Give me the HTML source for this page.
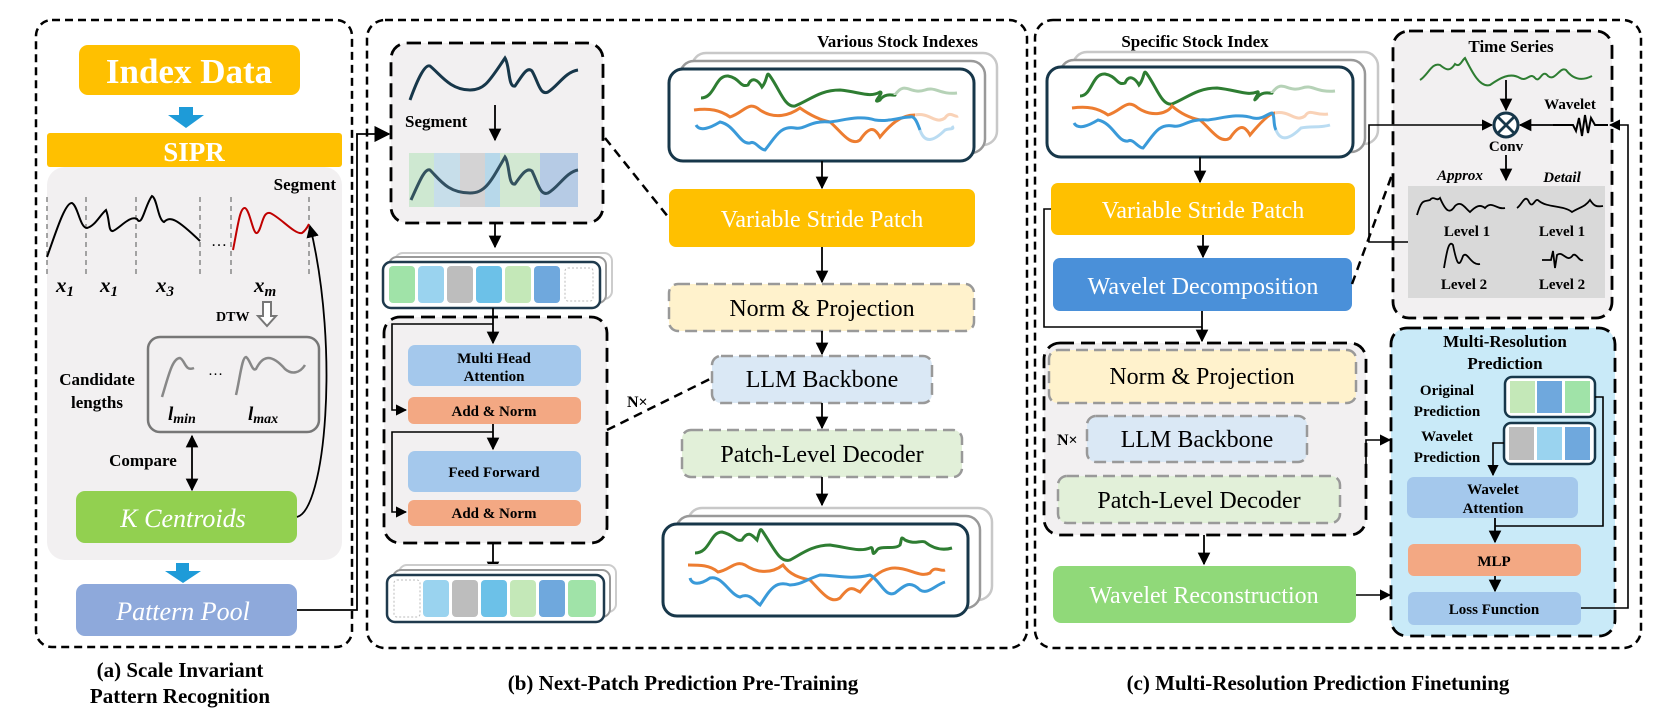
<!DOCTYPE html>
<html><head><meta charset="utf-8"><style>
html,body{margin:0;padding:0;background:#fff;}
svg{display:block;font-family:"Liberation Serif",serif;}
.b{font-weight:bold;}
</style></head><body>
<svg width="1661" height="720" viewBox="0 0 1661 720" xmlns="http://www.w3.org/2000/svg">
<defs>
<marker id="ar" viewBox="0 0 10 10" refX="9" refY="5" markerWidth="7" markerHeight="7" orient="auto-start-reverse"><path d="M0,0 L10,5 L0,10 z" fill="#000"/></marker>
<marker id="ar2" viewBox="0 0 10 10" refX="9" refY="5" markerWidth="9" markerHeight="9" orient="auto-start-reverse"><path d="M0,0 L10,5 L0,10 z" fill="#000"/></marker>
</defs>
<!-- Panel outlines -->
<g fill="none" stroke="#000" stroke-width="2.5" stroke-dasharray="8,5">
<rect x="36" y="20" width="316" height="627" rx="16"/>
<rect x="367" y="20" width="660" height="628" rx="18"/>
<rect x="1035" y="20" width="606" height="628" rx="18"/>
</g>
<!-- ===== Panel A ===== -->
<rect x="79" y="45" width="221" height="50" rx="9" fill="#FFC000"/>
<text x="189" y="83" text-anchor="middle" class="b" font-size="35" fill="#fff">Index Data</text>
<path d="M179,107 h14 v8 h11 l-18,13 l-18,-13 h11 z" fill="#1E9BD8"/>
<rect x="47" y="167" width="295" height="393" rx="18" fill="#F2F0F1"/>
<rect x="47" y="133" width="295" height="34" rx="3" fill="#FFC000"/>
<text x="194" y="161" text-anchor="middle" class="b" font-size="27" fill="#fff">SIPR</text>
<text x="336" y="190" text-anchor="end" class="b" font-size="17">Segment</text>
<g stroke="#888" stroke-width="1.5" stroke-dasharray="5,4">
<line x1="47" y1="197" x2="47" y2="277"/><line x1="86" y1="197" x2="86" y2="277"/><line x1="136" y1="197" x2="136" y2="277"/><line x1="200" y1="197" x2="200" y2="277"/><line x1="231" y1="197" x2="231" y2="277"/><line x1="309" y1="197" x2="309" y2="277"/>
</g>
<path d="M47,257 C55,235 65,202 72,203 C78,206 80,228 87,228 C95,226 100,215 106,210 C110,220 108,232 113,231 C120,228 130,215 137,219 C142,228 145,205 152,196 C157,198 158,220 164,222 C170,216 176,218 200,241" fill="none" stroke="#000" stroke-width="2"/>
<text x="211" y="246" font-size="16">…</text>
<path d="M233,250 C238,225 240,207 245,208 C250,210 253,235 257,233 C262,230 262,211 270,213 C280,217 295,235 302,233 C305,231 308,226 309,224" fill="none" stroke="#C00000" stroke-width="2"/>
<g font-style="italic" class="b" font-size="21"><text x="56" y="292">x<tspan font-size="15" dy="4">1</tspan></text><text x="100" y="292">x<tspan font-size="15" dy="4">1</tspan></text><text x="156" y="292">x<tspan font-size="15" dy="4">3</tspan></text><text x="254" y="292">x<tspan font-size="15" dy="4">m</tspan></text></g>
<text x="216" y="321" class="b" font-size="14">DTW</text>
<path d="M263,302 h8 v14 h5 l-9,10 l-9,-10 h5 z" fill="#fff" stroke="#777" stroke-width="2"/>
<rect x="148" y="337" width="171" height="95" rx="12" fill="none" stroke="#777" stroke-width="2.5"/>
<path d="M162,397 C168,378 172,358 180,358 C185,360 185,372 194,368" fill="none" stroke="#888" stroke-width="2.5"/>
<text x="208" y="375" font-size="15">…</text>
<path d="M236,395 C240,378 242,357 246,357 C250,359 252,372 256,369 C262,357 270,352 285,369 C292,375 300,373 305,365" fill="none" stroke="#888" stroke-width="2.5"/>
<text x="97" y="385" text-anchor="middle" class="b" font-size="17">Candidate</text>
<text x="97" y="408" text-anchor="middle" class="b" font-size="17">lengths</text>
<text x="168" y="420" class="b" font-style="italic" font-size="19">l<tspan font-size="14" dy="3">min</tspan></text>
<text x="248" y="420" class="b" font-style="italic" font-size="19">l<tspan font-size="14" dy="3">max</tspan></text>
<text x="143" y="466" text-anchor="middle" class="b" font-size="17">Compare</text>
<line x1="192" y1="436" x2="192" y2="490" stroke="#000" stroke-width="1.8" marker-start="url(#ar)" marker-end="url(#ar)"/>
<rect x="76" y="491" width="221" height="52" rx="9" fill="#92D050"/>
<text x="183" y="527" text-anchor="middle" font-style="italic" font-size="26" fill="#fff">K Centroids</text>
<path d="M297,517 C325,510 340,350 310,226" fill="none" stroke="#000" stroke-width="1.8" marker-end="url(#ar)"/>
<path d="M176,563 h13 v8 h12 l-18,12 l-18,-12 h11 z" fill="#1E9BD8"/>
<rect x="76" y="584" width="221" height="52" rx="9" fill="#8EA9DB"/>
<text x="183" y="620" text-anchor="middle" font-style="italic" font-size="26" fill="#fff">Pattern Pool</text>
<path d="M297,610 H357 V134 H389" fill="none" stroke="#000" stroke-width="1.8" marker-end="url(#ar2)"/>
<text x="180" y="677" text-anchor="middle" class="b" font-size="21">(a) Scale Invariant</text>
<text x="180" y="703" text-anchor="middle" class="b" font-size="21">Pattern Recognition</text>
<!-- ===== Panel B ===== -->
<rect x="391" y="43" width="212" height="180" rx="16" fill="#F2F0F1" stroke="#000" stroke-width="2.8" stroke-dasharray="14,7"/>
<path d="M410,100 C418,78 425,64 430,66 C440,74 450,90 470,90 C485,90 490,80 505,58 C510,66 508,88 515,86 C522,76 527,66 532,71 C538,81 540,96 548,92 C558,86 565,72 578,70" fill="none" stroke="#17374A" stroke-width="3"/>
<text x="405" y="127" class="b" font-size="17">Segment</text>
<line x1="495" y1="105" x2="495" y2="140" stroke="#000" stroke-width="1.8" marker-end="url(#ar)"/>
<g opacity="0.7"><rect x="409" y="153" width="40" height="54" fill="#BFE6C4"/><rect x="434" y="153" width="40" height="54" fill="#B6D7E8"/><rect x="460" y="153" width="35" height="54" fill="#C8C8C8"/><rect x="485" y="153" width="35" height="54" fill="#9FCFE8"/><rect x="500" y="153" width="40" height="54" fill="#C5E5C5"/><rect x="540" y="153" width="38" height="54" fill="#9DBCE0"/></g>
<path d="M411,200 C420,180 425,168 430,170 C440,180 448,193 470,193 C485,193 490,183 505,157 C510,164 508,186 515,184 C522,174 527,167 532,171 C538,183 540,196 548,193 C558,188 566,172 578,170" fill="none" stroke="#17374A" stroke-width="3" opacity="0.85"/>
<line x1="495" y1="223" x2="495" y2="247" stroke="#000" stroke-width="1.8" marker-end="url(#ar)"/>
<rect x="395" y="253" width="217" height="46" rx="8" fill="#fff" stroke="#ccc" stroke-width="2"/>
<rect x="389" y="257" width="217" height="46" rx="8" fill="#fff" stroke="#999" stroke-width="2"/>
<rect x="383" y="262" width="217" height="46" rx="8" fill="#fff" stroke="#1F3A4D" stroke-width="2.5"/>
<g><rect x="389" y="266" width="26" height="37" rx="4" fill="#A0E3A8"/><rect x="418" y="266" width="26" height="37" rx="4" fill="#9AD3EF"/><rect x="447" y="266" width="26" height="37" rx="4" fill="#BDBDBD"/><rect x="476" y="266" width="26" height="37" rx="4" fill="#6CC1E8"/><rect x="505" y="266" width="26" height="37" rx="4" fill="#C4E8B8"/><rect x="534" y="266" width="26" height="37" rx="4" fill="#6FA8DD"/><rect x="565" y="268" width="28" height="33" rx="3" fill="#fff" stroke="#bbb" stroke-dasharray="2,2"/></g>
<rect x="384" y="317" width="223" height="226" rx="16" fill="#F2F0F1" stroke="#000" stroke-width="2.8" stroke-dasharray="14,7"/>
<line x1="493" y1="308" x2="493" y2="343" stroke="#000" stroke-width="1.8" marker-end="url(#ar)"/>
<path d="M493,324 H392 V410 H406" fill="none" stroke="#000" stroke-width="1.6" marker-end="url(#ar)"/>
<rect x="408" y="345" width="173" height="41" rx="7" fill="#A4C8EC"/>
<text x="494" y="363" text-anchor="middle" class="b" font-size="15">Multi Head</text>
<text x="494" y="381" text-anchor="middle" class="b" font-size="15">Attention</text>
<rect x="408" y="397" width="173" height="27" rx="6" fill="#F3A883"/>
<text x="494" y="416" text-anchor="middle" class="b" font-size="15">Add &amp; Norm</text>
<line x1="493" y1="424" x2="493" y2="449" stroke="#000" stroke-width="1.8" marker-end="url(#ar)"/>
<path d="M493,432 H392 V512 H406" fill="none" stroke="#000" stroke-width="1.6" marker-end="url(#ar)"/>
<rect x="408" y="451" width="173" height="41" rx="7" fill="#A4C8EC"/>
<text x="494" y="477" text-anchor="middle" class="b" font-size="15">Feed Forward</text>
<rect x="408" y="500" width="173" height="26" rx="6" fill="#F3A883"/>
<text x="494" y="518" text-anchor="middle" class="b" font-size="15">Add &amp; Norm</text>
<line x1="493" y1="543" x2="493" y2="573" stroke="#000" stroke-width="1.8" marker-end="url(#ar)"/>
<rect x="399" y="565" width="217" height="47" rx="8" fill="#fff" stroke="#ccc" stroke-width="2"/>
<rect x="393" y="570" width="217" height="47" rx="8" fill="#fff" stroke="#999" stroke-width="2"/>
<rect x="387" y="575" width="217" height="47" rx="8" fill="#fff" stroke="#1F3A4D" stroke-width="2.5"/>
<g><rect x="394" y="580" width="26" height="37" rx="3" fill="#fff" stroke="#bbb" stroke-dasharray="2,2"/><rect x="423" y="580" width="26" height="37" rx="4" fill="#9AD3EF"/><rect x="452" y="580" width="26" height="37" rx="4" fill="#BDBDBD"/><rect x="481" y="580" width="26" height="37" rx="4" fill="#6CC1E8"/><rect x="510" y="580" width="26" height="37" rx="4" fill="#C4E8B8"/><rect x="539" y="580" width="26" height="37" rx="4" fill="#6FA8DD"/><rect x="568" y="580" width="28" height="37" rx="4" fill="#A0E3A8"/></g>
<!-- dashed links -->
<line x1="605" y1="138" x2="669" y2="218" stroke="#000" stroke-width="2.5" stroke-dasharray="9,6"/>
<line x1="607" y1="430" x2="712" y2="378" stroke="#000" stroke-width="2.5" stroke-dasharray="9,6"/>
<text x="627" y="407" class="b" font-size="16">N×</text>
<text x="978" y="47" text-anchor="end" class="b" font-size="17">Various Stock Indexes</text>
<!-- stack top -->
<rect x="692" y="53" width="305" height="92" rx="14" fill="#fff" stroke="#C8C8C8" stroke-width="2.5"/>
<rect x="680" y="61" width="305" height="92" rx="14" fill="#fff" stroke="#999" stroke-width="2.5"/>
<rect x="669" y="69" width="305" height="92" rx="14" fill="#fff" stroke="#17374A" stroke-width="3"/>
<g fill="none" stroke-width="3">
<path d="M701,98 C715,98 715,75 728,76 C740,78 740,88 748,85 C752,76 758,80 762,87 C768,80 766,70 770,76 C780,90 785,108 795,106 C810,100 820,90 840,90 C860,92 870,98 880,92 C885,92 870,105 880,100 C885,92 895,96 895,95" stroke="#2E7D32"/>
<path d="M895,95 C905,80 910,95 925,90 C935,86 940,95 957,93" stroke="#2E7D32" opacity="0.35"/>
<path d="M694,110 C710,108 720,110 730,117 C745,112 748,100 760,110 C775,120 790,115 800,108 C810,115 820,120 830,122 C840,130 850,147 860,140 C870,125 875,128 880,137 C890,125 900,115 915,115" stroke="#ED7D31"/>
<path d="M915,115 C930,112 935,125 945,118 C950,110 955,118 958,116" stroke="#ED7D31" opacity="0.35"/>
<path d="M696,125 C700,132 710,128 720,122 C735,125 740,145 750,143 C755,140 760,150 765,150 C775,138 780,125 795,128 C805,130 810,120 830,122 C845,120 860,115 875,120 C890,122 900,117 910,117 C915,115 918,125 920,130" stroke="#3A9AD9"/>
<path d="M920,130 C925,145 935,140 945,130 C950,128 955,130 952,126" stroke="#3A9AD9" opacity="0.35"/>
</g>
<line x1="822" y1="161" x2="822" y2="188" stroke="#000" stroke-width="1.8" marker-end="url(#ar)"/>
<rect x="669" y="189" width="306" height="58" rx="7" fill="#FFC000"/>
<text x="822" y="227" text-anchor="middle" font-size="24" fill="#fff">Variable Stride Patch</text>
<line x1="822" y1="247" x2="822" y2="282" stroke="#000" stroke-width="1.8" marker-end="url(#ar)"/>
<rect x="669" y="284" width="305" height="47" rx="9" fill="#FFF2CC" stroke="#999" stroke-width="2.5" stroke-dasharray="12,6"/>
<text x="822" y="316" text-anchor="middle" font-size="24">Norm &amp; Projection</text>
<line x1="822" y1="331" x2="822" y2="354" stroke="#000" stroke-width="1.8" marker-end="url(#ar)"/>
<rect x="712" y="356" width="220" height="47" rx="9" fill="#DAE8F5" stroke="#999" stroke-width="2.5" stroke-dasharray="12,6"/>
<text x="822" y="387" text-anchor="middle" font-size="24">LLM Backbone</text>
<line x1="822" y1="403" x2="822" y2="428" stroke="#000" stroke-width="1.8" marker-end="url(#ar)"/>
<rect x="682" y="430" width="280" height="47" rx="9" fill="#E2F0D9" stroke="#999" stroke-width="2.5" stroke-dasharray="12,6"/>
<text x="822" y="462" text-anchor="middle" font-size="24">Patch-Level Decoder</text>
<line x1="822" y1="477" x2="822" y2="505" stroke="#000" stroke-width="1.8" marker-end="url(#ar)"/>
<rect x="688" y="508" width="304" height="92" rx="14" fill="#fff" stroke="#C8C8C8" stroke-width="2.5"/>
<rect x="676" y="516" width="304" height="92" rx="14" fill="#fff" stroke="#999" stroke-width="2.5"/>
<rect x="663" y="524" width="305" height="92" rx="14" fill="#fff" stroke="#17374A" stroke-width="3"/>
<g fill="none" stroke-width="3">
<path d="M695,553 C710,553 710,532 722,532 C735,535 735,542 742,540 C748,530 752,535 757,540 C760,530 760,527 763,532 C775,550 780,563 790,560 C800,555 812,545 830,545 C850,548 860,552 870,548 C875,545 870,560 877,550 C880,545 895,550 900,545 C902,540 900,535 905,540 C915,545 920,540 925,542 C935,550 945,550 952,548" stroke="#2E7D32"/>
<path d="M688,565 C700,565 710,565 718,572 C730,570 735,560 745,565 C755,572 770,575 783,565 C790,575 800,578 810,580 C820,590 830,605 840,598 C850,585 852,588 860,592 C870,580 880,568 895,568 C910,568 920,578 930,573 C935,565 940,572 945,570" stroke="#ED7D31"/>
<path d="M690,578 C692,585 700,585 710,578 C722,575 730,595 740,597 C750,592 755,602 760,605 C770,590 775,580 790,585 C800,585 805,580 820,575 C835,575 850,580 870,575 C880,580 885,598 895,593 C905,585 910,580 920,590 C928,595 935,585 945,582" stroke="#3A9AD9"/>
</g>
<text x="683" y="690" text-anchor="middle" class="b" font-size="21">(b) Next-Patch Prediction Pre-Training</text>
<!-- ===== Panel C ===== -->
<text x="1195" y="47" text-anchor="middle" class="b" font-size="17">Specific Stock Index</text>
<rect x="1073" y="52" width="305" height="92" rx="14" fill="#fff" stroke="#C8C8C8" stroke-width="2.5"/>
<rect x="1060" y="60" width="305" height="92" rx="14" fill="#fff" stroke="#999" stroke-width="2.5"/>
<rect x="1047" y="67" width="306" height="90" rx="14" fill="#fff" stroke="#17374A" stroke-width="3"/>
<g fill="none" stroke-width="3">
<path d="M1080,96 C1092,96 1092,73 1105,74 C1117,76 1117,86 1125,83 C1129,74 1135,78 1139,85 C1145,78 1143,68 1147,74 C1157,88 1162,106 1172,104 C1187,98 1197,88 1217,88 C1237,90 1247,96 1257,92 C1262,90 1250,105 1257,98 C1262,90 1272,94 1272,93" stroke="#2E7D32"/>
<path d="M1272,93 C1282,78 1287,93 1302,88 C1312,84 1317,93 1335,91" stroke="#2E7D32" opacity="0.35"/>
<path d="M1072,108 C1088,106 1098,108 1108,115 C1123,110 1126,98 1138,108 C1153,118 1168,113 1172,106 C1180,113 1190,118 1200,120 C1210,128 1220,145 1230,138 C1240,123 1245,126 1250,135 C1260,123 1270,113 1275,113" stroke="#ED7D31"/>
<path d="M1275,113 C1290,110 1295,123 1305,116 C1310,108 1315,116 1328,114" stroke="#ED7D31" opacity="0.35"/>
<path d="M1074,123 C1078,130 1088,126 1098,120 C1113,123 1118,143 1128,141 C1133,138 1138,148 1143,148 C1153,136 1158,123 1173,126 C1183,128 1188,118 1208,120 C1223,118 1238,113 1253,118 C1263,120 1268,113 1272,113 C1275,115 1273,125 1276,130" stroke="#3A9AD9"/>
<path d="M1276,130 C1281,143 1291,138 1301,128 C1311,126 1320,128 1330,125" stroke="#3A9AD9" opacity="0.35"/>
</g>
<line x1="1200" y1="157" x2="1200" y2="182" stroke="#000" stroke-width="1.8" marker-end="url(#ar)"/>
<rect x="1051" y="183" width="304" height="52" rx="7" fill="#FFC000"/>
<text x="1203" y="218" text-anchor="middle" font-size="24" fill="#fff">Variable Stride Patch</text>
<line x1="1203" y1="235" x2="1203" y2="257" stroke="#000" stroke-width="1.8" marker-end="url(#ar)"/>
<rect x="1053" y="258" width="299" height="53" rx="7" fill="#4A90D9"/>
<text x="1203" y="294" text-anchor="middle" font-size="24" fill="#fff">Wavelet Decomposition</text>
<path d="M1051,209 H1044 V327 H1202" fill="none" stroke="#000" stroke-width="1.6"/>
<line x1="1202" y1="311" x2="1202" y2="341" stroke="#000" stroke-width="1.8" marker-end="url(#ar)"/>
<line x1="1352" y1="284" x2="1393" y2="172" stroke="#000" stroke-width="2.5" stroke-dasharray="9,6"/>
<rect x="1044" y="343" width="322" height="192" rx="16" fill="#F2F0F1" stroke="#000" stroke-width="2.8" stroke-dasharray="14,7"/>
<rect x="1049" y="350" width="307" height="53" rx="9" fill="#FFF2CC" stroke="#999" stroke-width="2.5" stroke-dasharray="12,6"/>
<text x="1202" y="384" text-anchor="middle" font-size="24">Norm &amp; Projection</text>
<text x="1057" y="445" class="b" font-size="16">N×</text>
<rect x="1087" y="416" width="220" height="46" rx="9" fill="#DAE8F5" stroke="#999" stroke-width="2.5" stroke-dasharray="12,6"/>
<text x="1197" y="447" text-anchor="middle" font-size="24">LLM Backbone</text>
<rect x="1058" y="476" width="282" height="47" rx="9" fill="#E2F0D9" stroke="#999" stroke-width="2.5" stroke-dasharray="12,6"/>
<text x="1199" y="508" text-anchor="middle" font-size="24">Patch-Level Decoder</text>
<line x1="1204" y1="535" x2="1204" y2="564" stroke="#000" stroke-width="1.8" marker-end="url(#ar)"/>
<rect x="1053" y="566" width="303" height="57" rx="8" fill="#90D979"/>
<text x="1204" y="603" text-anchor="middle" font-size="24" fill="#fff">Wavelet Reconstruction</text>
<!-- Time series box -->
<rect x="1393" y="31" width="219" height="287" rx="16" fill="#F2F0F1" stroke="#000" stroke-width="2.8" stroke-dasharray="14,7"/>
<text x="1511" y="52" text-anchor="middle" class="b" font-size="17">Time Series</text>
<path d="M1420,80 C1428,75 1432,62 1440,65 C1446,70 1450,72 1455,64 C1460,68 1462,60 1465,58 C1472,72 1480,88 1490,85 C1500,78 1510,72 1520,78 C1527,82 1530,72 1535,78 C1540,84 1542,68 1548,76 C1555,82 1560,66 1566,70 C1572,78 1580,82 1592,76" fill="none" stroke="#2E7D32" stroke-width="2"/>
<line x1="1506" y1="80" x2="1506" y2="110" stroke="#000" stroke-width="1.8" marker-end="url(#ar)"/>
<circle cx="1506" cy="125" r="12" fill="#fff" stroke="#17374A" stroke-width="3"/>
<path d="M1498,117 L1514,133 M1514,117 L1498,133" stroke="#17374A" stroke-width="2.8"/>
<text x="1506" y="151" text-anchor="middle" class="b" font-size="15">Conv</text>
<text x="1570" y="109" text-anchor="middle" class="b" font-size="15">Wavelet</text>
<path d="M1608,125 H1595 L1591,118 L1588,133 L1585,115 L1582,136 L1579,118 L1576,131 L1573,125 H1553" fill="none" stroke="#000" stroke-width="2"/>
<line x1="1553" y1="125" x2="1520" y2="125" stroke="#000" stroke-width="1.8" marker-end="url(#ar)"/>
<line x1="1506" y1="155" x2="1506" y2="180" stroke="#000" stroke-width="1.8" marker-end="url(#ar)"/>
<text x="1460" y="180" text-anchor="middle" class="b" font-style="italic" font-size="15">Approx</text>
<text x="1562" y="182" text-anchor="middle" class="b" font-style="italic" font-size="15">Detail</text>
<rect x="1408" y="186" width="197" height="112" fill="#D9D9D9"/>
<path d="M1417,215 C1422,198 1424,202 1430,200 C1434,195 1436,202 1440,198 C1446,212 1450,214 1455,206 C1461,200 1465,208 1470,212 C1476,206 1480,204 1485,208 C1492,200 1496,210 1505,208" fill="none" stroke="#000" stroke-width="1.8"/>
<path d="M1517,208 C1522,205 1525,193 1529,202 C1533,210 1535,196 1539,201 C1548,208 1563,205 1572,212 C1580,207 1585,207 1590,200 C1594,206 1596,207 1603,206" fill="none" stroke="#000" stroke-width="1.8"/>
<text x="1467" y="236" text-anchor="middle" class="b" font-size="15">Level 1</text>
<text x="1562" y="236" text-anchor="middle" class="b" font-size="15">Level 1</text>
<path d="M1444,268 C1447,250 1449,240 1453,245 C1457,265 1459,268 1463,256 C1467,250 1471,266 1480,264" fill="none" stroke="#000" stroke-width="1.8"/>
<path d="M1542,260 H1551 L1553,251 L1555,268 L1557,255 C1563,250 1567,264 1573,255 C1577,253 1579,262 1583,260" fill="none" stroke="#000" stroke-width="1.8"/>
<text x="1464" y="289" text-anchor="middle" class="b" font-size="15">Level 2</text>
<text x="1562" y="289" text-anchor="middle" class="b" font-size="15">Level 2</text>
<path d="M1408,242 H1369 V125 H1492" fill="none" stroke="#000" stroke-width="1.6" marker-end="url(#ar)"/>
<!-- Multi-resolution box -->
<rect x="1391" y="328" width="224" height="308" rx="16" fill="#C9EAF8" stroke="#000" stroke-width="2.8" stroke-dasharray="14,7"/>
<text x="1505" y="347" text-anchor="middle" class="b" font-size="17">Multi-Resolution</text>
<text x="1505" y="369" text-anchor="middle" class="b" font-size="17">Prediction</text>
<text x="1447" y="395" text-anchor="middle" class="b" font-size="15">Original</text>
<text x="1447" y="416" text-anchor="middle" class="b" font-size="15">Prediction</text>
<rect x="1505" y="377" width="90" height="40" rx="7" fill="#fff" stroke="#17374A" stroke-width="2.5"/>
<rect x="1510" y="381" width="25" height="32" fill="#C4E8B8"/><rect x="1537" y="381" width="25" height="32" fill="#6FA8DD"/><rect x="1565" y="381" width="25" height="32" fill="#A0E3A8"/>
<text x="1447" y="441" text-anchor="middle" class="b" font-size="15">Wavelet</text>
<text x="1447" y="462" text-anchor="middle" class="b" font-size="15">Prediction</text>
<rect x="1504" y="423" width="91" height="41" rx="7" fill="#fff" stroke="#17374A" stroke-width="2.5"/>
<rect x="1509" y="427" width="25" height="33" fill="#BDBDBD"/><rect x="1537" y="427" width="25" height="33" fill="#9AD3EF"/><rect x="1565" y="427" width="25" height="33" fill="#6FA8DD"/>
<path d="M1504,443 H1493 V475" fill="none" stroke="#000" stroke-width="1.6" marker-end="url(#ar)"/>
<rect x="1407" y="477" width="171" height="41" rx="7" fill="#A4C8EC"/>
<text x="1493" y="494" text-anchor="middle" class="b" font-size="15">Wavelet</text>
<text x="1493" y="513" text-anchor="middle" class="b" font-size="15">Attention</text>
<path d="M1595,397 H1603 V526 H1495" fill="none" stroke="#000" stroke-width="1.6"/>
<line x1="1495" y1="518" x2="1495" y2="542" stroke="#000" stroke-width="1.8" marker-end="url(#ar)"/>
<rect x="1408" y="544" width="173" height="32" rx="6" fill="#F3A883"/>
<text x="1494" y="566" text-anchor="middle" class="b" font-size="15">MLP</text>
<line x1="1495" y1="576" x2="1495" y2="591" stroke="#000" stroke-width="1.8" marker-end="url(#ar)"/>
<rect x="1408" y="592" width="173" height="33" rx="6" fill="#A4C8EC"/>
<text x="1494" y="614" text-anchor="middle" class="b" font-size="15">Loss Function</text>
<path d="M1581,608 H1628 V125 H1610" fill="none" stroke="#000" stroke-width="1.6" marker-end="url(#ar)"/>
<path d="M1366,470 V440 H1390" fill="none" stroke="#000" stroke-width="1.6" marker-end="url(#ar)"/>
<line x1="1356" y1="595" x2="1390" y2="595" stroke="#000" stroke-width="1.6" marker-end="url(#ar)"/>
<text x="1318" y="690" text-anchor="middle" class="b" font-size="21">(c) Multi-Resolution Prediction Finetuning</text>
</svg>
</body></html>
